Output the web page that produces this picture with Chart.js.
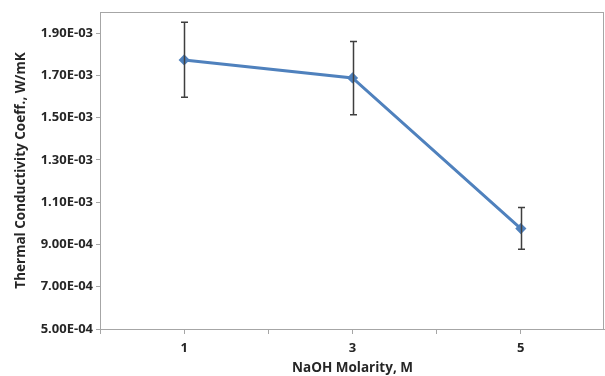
<!DOCTYPE html>
<html>
<head>
<meta charset="utf-8">
<script src="https://cdn.jsdelivr.net/npm/chart.js@4"></script>
<style>
  html, body { margin: 0; padding: 0; background: #fff; }
  #wrap { width: 605px; height: 376px; }
</style>
</head>
<body>
<div id="wrap"><canvas id="chart" width="605" height="376"></canvas></div>
<script>
// Datos
const molarity = [1, 3, 5];
const conductivity = [1.773e-3, 1.688e-3, 0.975e-3];
const errorPlus = [1.78e-4, 1.72e-4, 1.0e-4];
const errorMinus = [1.76e-4, 1.74e-4, 0.98e-4];
const yTicks = [5e-4, 7e-4, 9e-4, 1.1e-3, 1.3e-3, 1.5e-3, 1.7e-3, 1.9e-3];
const xTicks = [0, 1, 2, 3, 4, 5, 6];
const xLabels = [1, 3, 5];

const FONT = '"Open Sans", "DejaVu Sans", sans-serif';

// Formato tipo Excel: 1.90E-03
const fmtExp = (v) => {
    const [m, e] = v.toExponential(2).split('e');
    const n = parseInt(e, 10);
    const sign = n < 0 ? '-' : '+';
    return m + 'E' + sign + String(Math.abs(n)).padStart(2, '0');
};

// Barras de error y marco del área del gráfico
const extras = {
    id: 'extras',
    afterDatasetsDraw(chart) {
        const { ctx, scales: { x, y }, chartArea: a } = chart;
        ctx.save();
        ctx.strokeStyle = '#a6a6a6';
        ctx.lineWidth = 1;
        ctx.strokeRect(a.left + 0.5, a.top + 0.5, a.right - a.left - 2, a.bottom - a.top);
        ctx.strokeStyle = '#3f3f3f';
        ctx.lineWidth = 1.5;
        molarity.forEach((m, i) => {
            const px = Math.round(x.getPixelForValue(m)) + 0.5;
            const top = y.getPixelForValue(conductivity[i] + errorPlus[i]);
            const bot = y.getPixelForValue(conductivity[i] - errorMinus[i]);
            ctx.beginPath();
            ctx.moveTo(px, top); ctx.lineTo(px, bot);
            ctx.moveTo(px - 3.5, top); ctx.lineTo(px + 3.5, top);
            ctx.moveTo(px - 3.5, bot); ctx.lineTo(px + 3.5, bot);
            ctx.stroke();
        });
        ctx.restore();
    }
};

new Chart(document.getElementById('chart'), {
    type: 'line',
    data: {
        datasets: [{
            data: molarity.map((m, i) => ({ x: m, y: conductivity[i] })),
            borderColor: '#4f81bd',
            backgroundColor: '#4f81bd',
            borderWidth: 3,
            pointStyle: 'rectRot',
            pointRadius: 3.5,
            tension: 0
        }]
    },
    options: {
        responsive: false,
        animation: false,
        layout: { autoPadding: false, padding: { top: 12, right: 0, left: 0, bottom: 0 } },
        plugins: { legend: { display: false }, tooltip: { enabled: false } },
        scales: {
            x: {
                type: 'linear',
                min: 0, max: 6,
                afterBuildTicks: (s) => { s.ticks = xTicks.map(v => ({ value: v })); },
                afterFit: (s) => { s.height = 47; s.paddingRight = 0; s.paddingLeft = 0; },
                border: { color: '#a6a6a6', width: 1 },
                grid: { drawOnChartArea: false, drawTicks: true, tickLength: 5, color: '#a6a6a6' },
                ticks: {
                    autoSkip: false,
                    maxRotation: 0,
                    padding: 6,
                    color: '#262626',
                    font: { family: FONT, size: 13, weight: 'bold' },
                    callback: (v) => xLabels.includes(v) ? String(v) : ''
                },
                title: {
                    display: true,
                    text: 'NaOH Molarity, M',
                    color: '#262626',
                    padding: { top: 0, bottom: 0 },
                    font: { family: FONT, size: 13.5, weight: 'bold' }
                }
            },
            y: {
                min: 5e-4, max: 2.0e-3,
                afterBuildTicks: (s) => { s.ticks = yTicks.map(v => ({ value: v })); },
                afterFit: (s) => { s.width = 100; },
                border: { color: '#a6a6a6', width: 1 },
                grid: { drawOnChartArea: false, drawTicks: true, tickLength: 4, color: '#a6a6a6' },
                ticks: {
                    autoSkip: false,
                    padding: 3,
                    color: '#262626',
                    font: { family: FONT, size: 13, weight: 'bold' },
                    callback: (v) => fmtExp(v)
                },
                title: {
                    display: true,
                    text: 'Thermal Conductivity Coeff., W/mK',
                    color: '#262626',
                    padding: { top: 13, bottom: 4 },
                    font: { family: FONT, size: 13.5, weight: 'bold' }
                }
            }
        }
    },
    plugins: [extras]
});
</script>
</body>
</html>
